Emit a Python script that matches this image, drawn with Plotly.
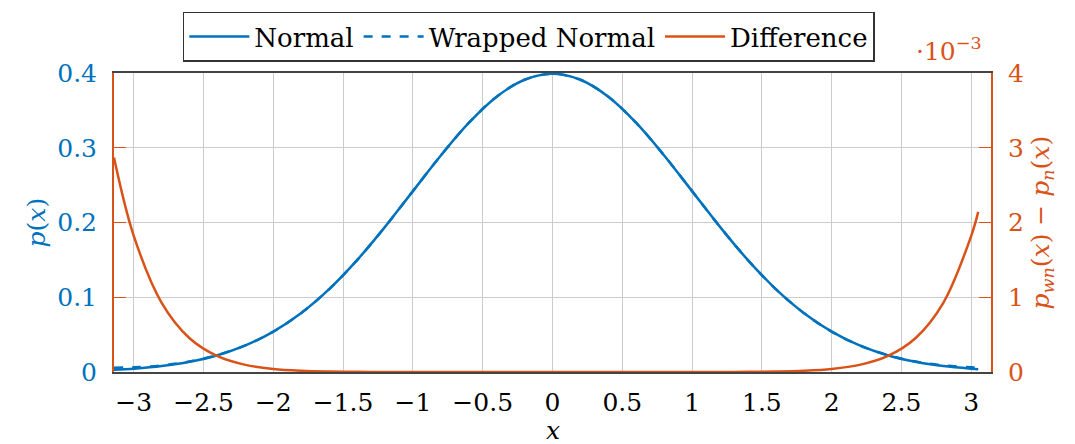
import plotly.graph_objects as go

BLUE = "#0072BD"
ORANGE = "#D95319"
FONT = "DejaVu Serif"
FS = 25
FS_LEG = 26

x_vals = [-3.1416, -3.0, -2.8, -2.6, -2.4, -2.2, -2.0, -1.8, -1.6, -1.4, -1.2, -1.0, -0.8,
          -0.6, -0.4, -0.2, 0.0, 0.2, 0.4, 0.6, 0.8, 1.0, 1.2, 1.4, 1.6, 1.8, 2.0, 2.2,
          2.4, 2.6, 2.8, 3.0, 3.05]
normal_vals = [0.00288, 0.00443, 0.0079, 0.0136, 0.0224, 0.0355, 0.0540, 0.0790, 0.1109,
               0.1497, 0.1942, 0.2420, 0.2897, 0.3332, 0.3683, 0.3910, 0.3989, 0.3910,
               0.3683, 0.3332, 0.2897, 0.2420, 0.1942, 0.1497, 0.1109, 0.0790, 0.0540,
               0.0355, 0.0224, 0.0136, 0.0079, 0.00443, 0.00381]
wrapped_vals = [0.00575, 0.00625, 0.00883, 0.01405, 0.02261, 0.0356, 0.05404, 0.07902,
                0.1109, 0.1497, 0.1942, 0.2420, 0.2897, 0.3332, 0.3683, 0.3910, 0.3989,
                0.3910, 0.3683, 0.3332, 0.2897, 0.2420, 0.1942, 0.1497, 0.1109, 0.07902,
                0.05404, 0.0356, 0.02261, 0.01405, 0.00883, 0.00625, 0.00595]
diff_vals_e3 = [2.87, 1.822, 0.926, 0.452, 0.212, 0.0957, 0.0415, 0.0173, 0.0069, 0.0026,
                0.0009, 0.0003, 0.0001, 0.0, 0.0, 0.0, 0.0, 0.0, 0.0, 0.0, 0.0001, 0.0003,
                0.0009, 0.0026, 0.0069, 0.0173, 0.0415, 0.0957, 0.212, 0.452, 0.926, 1.822,
                2.142]

x_ticks = [-3, -2.5, -2, -1.5, -1, -0.5, 0, 0.5, 1, 1.5, 2, 2.5, 3]
x_ticktext = ["−3", "−2.5", "−2", "−1.5", "−1", "−0.5", "0", "0.5", "1", "1.5", "2", "2.5", "3"]
y_ticks = [0, 0.1, 0.2, 0.3, 0.4]
y_ticktext = ["0", "0.1", "0.2", "0.3", "0.4"]
y2_ticks = [0, 1, 2, 3, 4]

fig = go.Figure()
fig.add_trace(go.Scatter(x=x_vals, y=normal_vals, mode="lines", name="Normal",
                         line=dict(color=BLUE, width=2.5, shape="spline")))
fig.add_trace(go.Scatter(x=x_vals, y=wrapped_vals, mode="lines", name="Wrapped Normal",
                         line=dict(color=BLUE, width=2.5, dash="dash", shape="spline")))
fig.add_trace(go.Scatter(x=x_vals, y=diff_vals_e3, mode="lines", name="Difference",
                         yaxis="y2", line=dict(color=ORANGE, width=2.5, shape="spline")))

fig.update_layout(
    width=1075, height=444,
    margin=dict(l=114, r=84, t=69, b=72),
    plot_bgcolor="white", paper_bgcolor="white",
    font=dict(family=FONT, size=FS, color="black"),
    showlegend=True,
    legend=dict(orientation="h", x=0.473, xanchor="center", y=1.205, yanchor="top",
                bordercolor="#333333", borderwidth=1.5, bgcolor="white",
                font=dict(family=FONT, size=FS_LEG, color="black"),
                itemwidth=60, tracegroupgap=0),
    xaxis=dict(range=[-3.14159, 3.14159], tickvals=x_ticks, ticktext=x_ticktext,
               showgrid=True, gridcolor="#cccccc", gridwidth=1, zeroline=False,
               showline=True, linecolor="#444444", linewidth=2, mirror=True,
               ticks="", ticklabelstandoff=7,
               tickfont=dict(family=FONT, size=FS, color="black")),
    yaxis=dict(range=[0, 0.4], tickvals=y_ticks, ticktext=y_ticktext,
               showgrid=True, gridcolor="#cccccc", gridwidth=1, zeroline=False,
               showline=True, linecolor=ORANGE, linewidth=2,
               ticks="inside", ticklen=12, tickcolor=ORANGE, tickwidth=1,
               ticklabelstandoff=10,
               tickfont=dict(family=FONT, size=FS, color=BLUE)),
    yaxis2=dict(range=[0, 4], tickvals=y2_ticks, overlaying="y", side="right",
                showgrid=False, zeroline=False,
                showline=True, linecolor=ORANGE, linewidth=2,
                ticks="inside", ticklen=12, tickcolor=ORANGE, tickwidth=1,
                ticklabelstandoff=10,
                tickfont=dict(family=FONT, size=FS, color=ORANGE)),
    annotations=[
        dict(text="<i>x</i>", xref="paper", yref="paper", x=0.5, y=0, yshift=-58,
             showarrow=False, font=dict(family=FONT, size=FS, color="black"),
             xanchor="center", yanchor="middle"),
        dict(text="<i>p</i>(<i>x</i>)", xref="paper", yref="paper", x=0, xshift=-78,
             y=0.5, textangle=-90, showarrow=False,
             font=dict(family=FONT, size=FS, color=BLUE), xanchor="center", yanchor="middle"),
        dict(text="<i>p</i><sub><i>wn</i></sub>(<i>x</i>) − <i>p</i><sub><i>n</i></sub>(<i>x</i>)",
             xref="paper", yref="paper", x=1, xshift=50, y=0.5, textangle=-90,
             showarrow=False, font=dict(family=FONT, size=FS, color=ORANGE),
             xanchor="center", yanchor="middle"),
        dict(text="·10<sup>−3</sup>", xref="paper", yref="paper", x=1, xshift=-42,
             y=1, yshift=24, showarrow=False,
             font=dict(family=FONT, size=FS, color=ORANGE), xanchor="center", yanchor="middle"),
    ],
)

fig.write_html("out.html")
